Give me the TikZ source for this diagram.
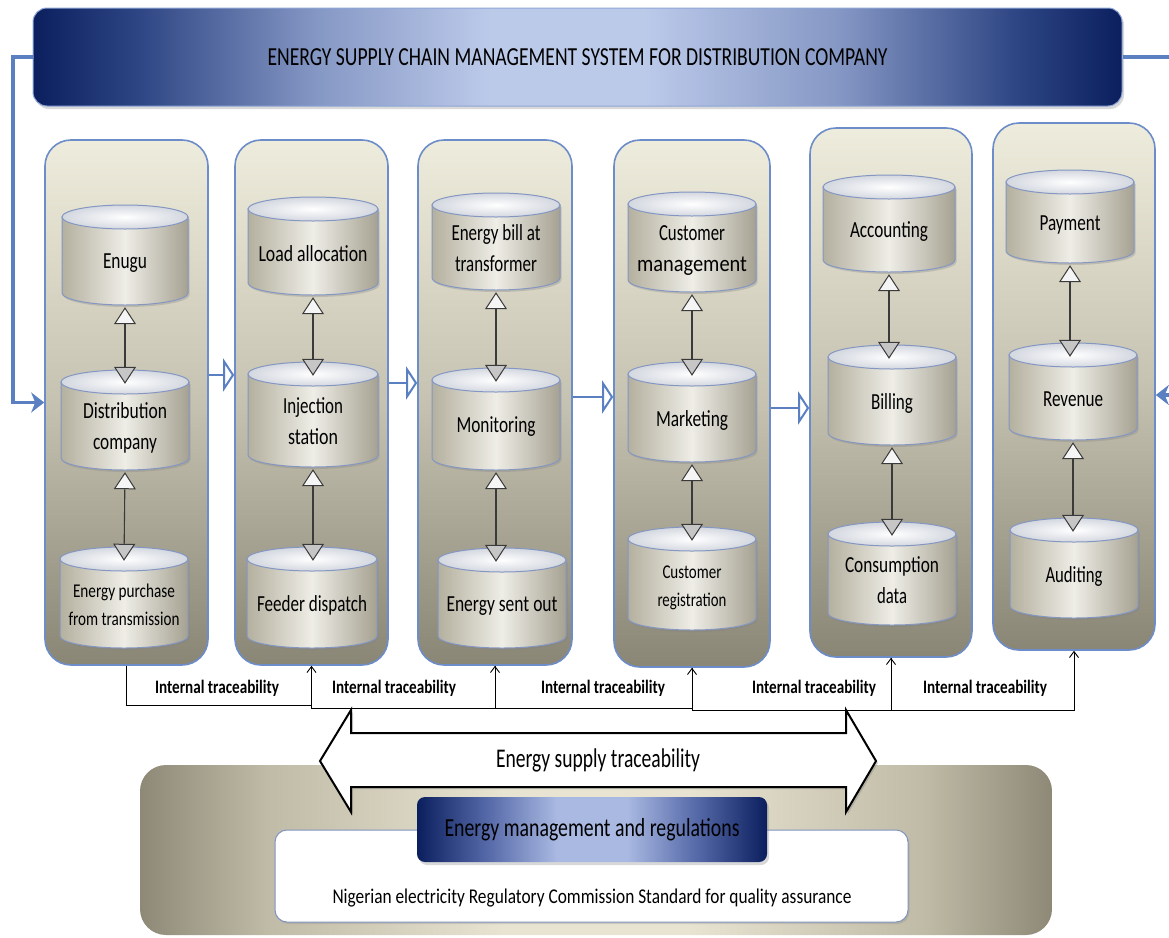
\documentclass[tikz,border=0pt]{standalone}
\usepackage{fontspec}
\setmainfont{Carlito}
\usepackage{graphicx}
\usetikzlibrary{arrows.meta,shadows,calc}

\definecolor{navy}{HTML}{0B1F5E}
\definecolor{navyB}{HTML}{2F4785}
\definecolor{navyC}{HTML}{8597C4}
\definecolor{skyband}{HTML}{BCCAEA}
\definecolor{bannerEdge}{HTML}{8FA6D6}
\definecolor{linkblue}{HTML}{5A80C2}
\definecolor{colTop}{HTML}{EEECDC}
\definecolor{colMid}{HTML}{C6C2B1}
\definecolor{colBot}{HTML}{8A8676}
\definecolor{colEdge}{HTML}{6C8DC9}
\definecolor{cylEdge}{HTML}{8496C2}
\definecolor{cylLight}{HTML}{EEEDE6}
\definecolor{cylDark}{HTML}{B4B09F}
\definecolor{cylRim}{HTML}{D3D7DF}
\definecolor{baseEdge}{HTML}{8E8976}
\definecolor{baseSoft}{HTML}{C0BBA7}
\definecolor{baseMid}{HTML}{E8E4D1}
\definecolor{navMid}{HTML}{5568A8}
\definecolor{navLight}{HTML}{A9B9E2}
\definecolor{boxEdge}{HTML}{7F93C0}
\definecolor{inkgray}{HTML}{3A3A3A}

% horizontal colour ramps (the 25bp..75bp band spans the filled shape)
\pgfdeclarehorizontalshading{bannershade}{100bp}{color(0bp)=(navy); color(25bp)=(navy);
  color(30bp)=(navyB); color(38bp)=(navyC); color(46bp)=(skyband); color(53bp)=(skyband);
  color(62bp)=(navyC); color(70bp)=(navyB); color(75bp)=(navy); color(100bp)=(navy)}
\pgfdeclarehorizontalshading{navshade}{100bp}{color(0bp)=(navy); color(25bp)=(navy);
  color(35bp)=(navMid); color(45bp)=(navLight); color(55bp)=(navLight);
  color(65bp)=(navMid); color(75bp)=(navy); color(100bp)=(navy)}
\pgfdeclarehorizontalshading{baseshade}{100bp}{color(0bp)=(baseEdge); color(25bp)=(baseEdge);
  color(32bp)=(baseSoft); color(45bp)=(baseMid); color(55bp)=(baseMid);
  color(68bp)=(baseSoft); color(75bp)=(baseEdge); color(100bp)=(baseEdge)}

% set a line of text to a given width, keeping its height
\newsavebox\fitbox
\newcommand\fw[2]{\sbox\fitbox{#2}\pgfmathsetmacro\fitf{#1/\the\wd\fitbox}\scalebox{\fitf}[1]{\usebox\fitbox}}
\newcommand\twolines[2]{\begin{tabular}{@{}c@{}}#1\\#2\end{tabular}}
\newcommand\smallcyl{\fontsize{19.5}{28}\selectfont}

% database cylinder: name, centre x, top y, bottom y, half width, label
\newcommand\cylinder[6]{%
  \path[cylbody] ({#2-#5},{#3+12}) -- ({#2-#5},{#4-12})
     arc[start angle=180,end angle=0,x radius=#5,y radius=12]
     -- ({#2+#5},{#3+12}) -- cycle;
  \path[cyltop] (#2,{#3+12}) ellipse[x radius=#5,y radius=12];
  \node[cyllabel, minimum width={2*#5}, minimum height={#4-#3-12}] (#1) at (#2,{(#3+12+#4)/2+2}) {#6};
}
% stage panel: name, left, top, right, bottom
\newcommand\stage[5]{%
  \node[colbox, minimum width={#4-#2}, minimum height={#5-#3}] (#1) at ({(#2+#4)/2},{(#3+#5)/2}) {};
}

\begin{document}
\begin{tikzpicture}[x=1pt,y=-1pt,
  banner/.style={rectangle, rounded corners=14pt, draw=bannerEdge, line width=1pt, shading=bannershade,
    drop shadow={opacity=0.3, shadow xshift=2pt, shadow yshift=-3pt}, inner sep=0pt,
    font=\fontsize{26}{30}\selectfont, text=black},
  colbox/.style={rectangle, rounded corners=26pt, draw=colEdge, line width=1.6pt,
    top color=colTop, bottom color=colBot, middle color=colMid, inner sep=0pt},
  cylbody/.style={draw=cylEdge, line width=1pt, left color=cylDark, right color=cylDark!92!black,
    middle color=cylLight, drop shadow={opacity=0.3, shadow xshift=1.5pt, shadow yshift=-2pt}},
  cyltop/.style={draw=cylEdge, line width=1pt, inner color=white, outer color=cylRim},
  cyllabel/.style={rectangle, inner sep=0pt, text=black, font=\fontsize{23}{31}\selectfont},
  link/.style={draw=inkgray, line width=1.1pt,
    {Triangle[length=17pt, width=22pt, line width=1pt, fill=white!92!gray]}-{Triangle[length=17pt, width=22pt, line width=1pt, fill=gray!45]}},
  colarrow/.style={draw=linkblue, line width=2.4pt,
    -{Triangle[length=11pt, width=33pt, line width=2pt, fill=white]}},
  feedbackline/.style={draw=linkblue, line width=3.5pt},
  feedback/.style={feedbackline, -{Stealth[length=13pt, width=20pt, inset=4pt]}},
  trace/.style={draw=black, line width=0.9pt, -{Straight Barb[length=6pt, width=9pt, line width=0.9pt]}},
  tracelabel/.style={font=\fontsize{19}{22}\selectfont\bfseries, text=black},
  supply/.style={draw=black, line width=2pt, fill=white, line join=miter,
    drop shadow={opacity=0.35, shadow xshift=2pt, shadow yshift=-2pt}},
  basebox/.style={rectangle, rounded corners=26pt, shading=baseshade, inner sep=0pt},
  whitebox/.style={rectangle, rounded corners=12pt, draw=boxEdge, line width=1pt, fill=white, inner sep=0pt,
    drop shadow={opacity=0.25, shadow xshift=1.5pt, shadow yshift=-2pt}},
  navbox/.style={rectangle, rounded corners=8pt, shading=navshade, inner sep=0pt,
    drop shadow={opacity=0.3, shadow xshift=2pt, shadow yshift=-3pt}},
]
\useasboundingbox (0,0) rectangle (1169,937);

% ---------- title band ----------
\node[banner, minimum width=1089, minimum height=98] (banner) at (577.5,57)
  {\fw{620}{ENERGY SUPPLY CHAIN MANAGEMENT SYSTEM FOR DISTRIBUTION COMPANY}};

% ---------- stage panels ----------
\stage{c1}{45}{140}{208}{665}
\stage{c2}{235}{140}{388}{665}
\stage{c3}{418}{140}{572}{665}
\stage{c4}{614}{140}{770}{667}
\stage{c5}{810}{128}{972}{657}
\stage{c6}{993}{123}{1155}{650}

% ---------- databases ----------
\cylinder{enugu}{125}{205}{305}{63}{\fw{44}{Enugu}}
\cylinder{disco}{125}{370}{470}{64}{\twolines{\fw{84}{Distribution}}{\fw{64}{company}}}
\cylinder{purchase}{124}{547}{648}{64}{\smallcyl\twolines{\fw{102}{Energy purchase}}{\fw{111}{from transmission}}}

\cylinder{load}{313}{197}{295}{65}{\fw{109}{Load allocation}}
\cylinder{inject}{313}{362}{467}{65}{\twolines{\fw{60}{Injection}}{\fw{50}{station}}}
\cylinder{feeder}{312}{547}{648}{65}{\fw{110}{Feeder dispatch}}

\cylinder{bill}{496}{193}{290}{64}{\twolines{\fw{89}{Energy bill at}}{\fw{82}{transformer}}}
\cylinder{monitor}{496}{368}{470}{64}{\fw{79}{Monitoring}}
\cylinder{sentout}{502}{548}{648}{64}{\fw{111}{Energy sent out}}

\cylinder{custmgmt}{692}{192}{292}{64}{\twolines{\fw{66}{Customer}}{\fw{110}{management}}}
\cylinder{marketing}{692}{362}{462}{64}{\fw{72}{Marketing}}
\cylinder{custreg}{692}{527}{630}{64}{\smallcyl\twolines{\fw{59}{Customer}}{\fw{69}{registration}}}

\cylinder{accounting}{889}{175}{272}{66}{\fw{78}{Accounting}}
\cylinder{billing}{892}{345}{445}{64}{\fw{42}{Billing}}
\cylinder{consumption}{892}{522}{625}{64}{\twolines{\fw{94}{Consumption}}{\fw{30}{data}}}

\cylinder{payment}{1070}{170}{263}{64}{\fw{61}{Payment}}
\cylinder{revenue}{1073}{343}{440}{64}{\fw{60}{Revenue}}
\cylinder{auditing}{1074}{518}{618}{64}{\fw{57}{Auditing}}

% ---------- links inside each stage ----------
\draw[link] (enugu.south) -- (disco.north);
\draw[link] (disco.south) -- (purchase.north);
\draw[link] (load.south) -- (inject.north);
\draw[link] (inject.south) -- (inject.south |- feeder.north);
\draw[link] (bill.south) -- (monitor.north);
\draw[link] (monitor.south) -- (monitor.south |- sentout.north);
\draw[link] (custmgmt.south) -- (marketing.north);
\draw[link] (marketing.south) -- (custreg.north);
\draw[link] (accounting.south) -- (accounting.south |- billing.north);
\draw[link] (billing.south) -- (consumption.north);
\draw[link] (payment.south) -- (payment.south |- revenue.north);
\draw[link] (revenue.south) -- (revenue.south |- auditing.north);

% ---------- flow between stages ----------
\draw[colarrow] (c1.east |- 0,375) -- (c2.west |- 0,375);
\draw[colarrow] (c2.east |- 0,383) -- (c3.west |- 0,383);
\draw[colarrow] (c3.east |- 0,397) -- (c4.west |- 0,397);
\draw[colarrow] (c4.east |- 0,408) -- (c5.west |- 0,408);

% ---------- feedback from the title band ----------
\coordinate (lbend) at (13,200);
\draw[feedback] (banner.west) -| (lbend) |- (c1.west);
\coordinate (rout) at (1180,57);
\coordinate (rin) at (1180,395);
\draw[feedbackline] (banner.east) -- (rout);
\draw[feedback] (rin) -- (c6.east |- rin);

% ---------- internal traceability ----------
\draw[trace] (c1.south) -- (c1.south |- 0,705) -| (c2.south);
\draw[trace] (c2.south) -- (c2.south |- 0,708) -| (c3.south);
\draw[trace] (c3.south) -- (c3.south |- 0,708) -| (c4.south);
\draw[trace] (c4.south) -- (c4.south |- 0,710) -| (c5.south);
\draw[trace] (c5.south) -- (c5.south |- 0,710) -| (c6.south);
\node[tracelabel] (it1) at (217,688) {\fw{124}{Internal traceability}};
\node[tracelabel] (it2) at (394,688) {\fw{124}{Internal traceability}};
\node[tracelabel] (it3) at (603,688) {\fw{124}{Internal traceability}};
\node[tracelabel] (it4) at (814,688) {\fw{124}{Internal traceability}};
\node[tracelabel] (it5) at (985,688) {\fw{124}{Internal traceability}};

% ---------- regulation base ----------
\node[basebox, minimum width=912, minimum height=170] (base) at (596,850) {};
\node[whitebox, minimum width=633, minimum height=92] (standard) at (591.5,876) {};
\node[font=\fontsize{21}{25}\selectfont, text=black] (standardtext) at (592,898)
  {\fw{519}{Nigerian electricity Regulatory Commission Standard for quality assurance}};
\node[navbox, minimum width=350, minimum height=65, font=\fontsize{26}{30}\selectfont, text=black]
  (regulation) at (592,829.5) {\fw{295}{Energy management and regulations}};

% ---------- energy supply traceability ----------
\draw[supply] (320,761) -- (351,710) -- (351,733) -- (846,733) -- (846,710) -- (876,761)
  -- (846,812) -- (846,787) -- (351,787) -- (351,812) -- cycle;
\node[font=\fontsize{27}{30}\selectfont, text=black] (supplylabel) at (598,760)
  {\fw{204}{Energy supply traceability}};
\end{tikzpicture}
\end{document}
